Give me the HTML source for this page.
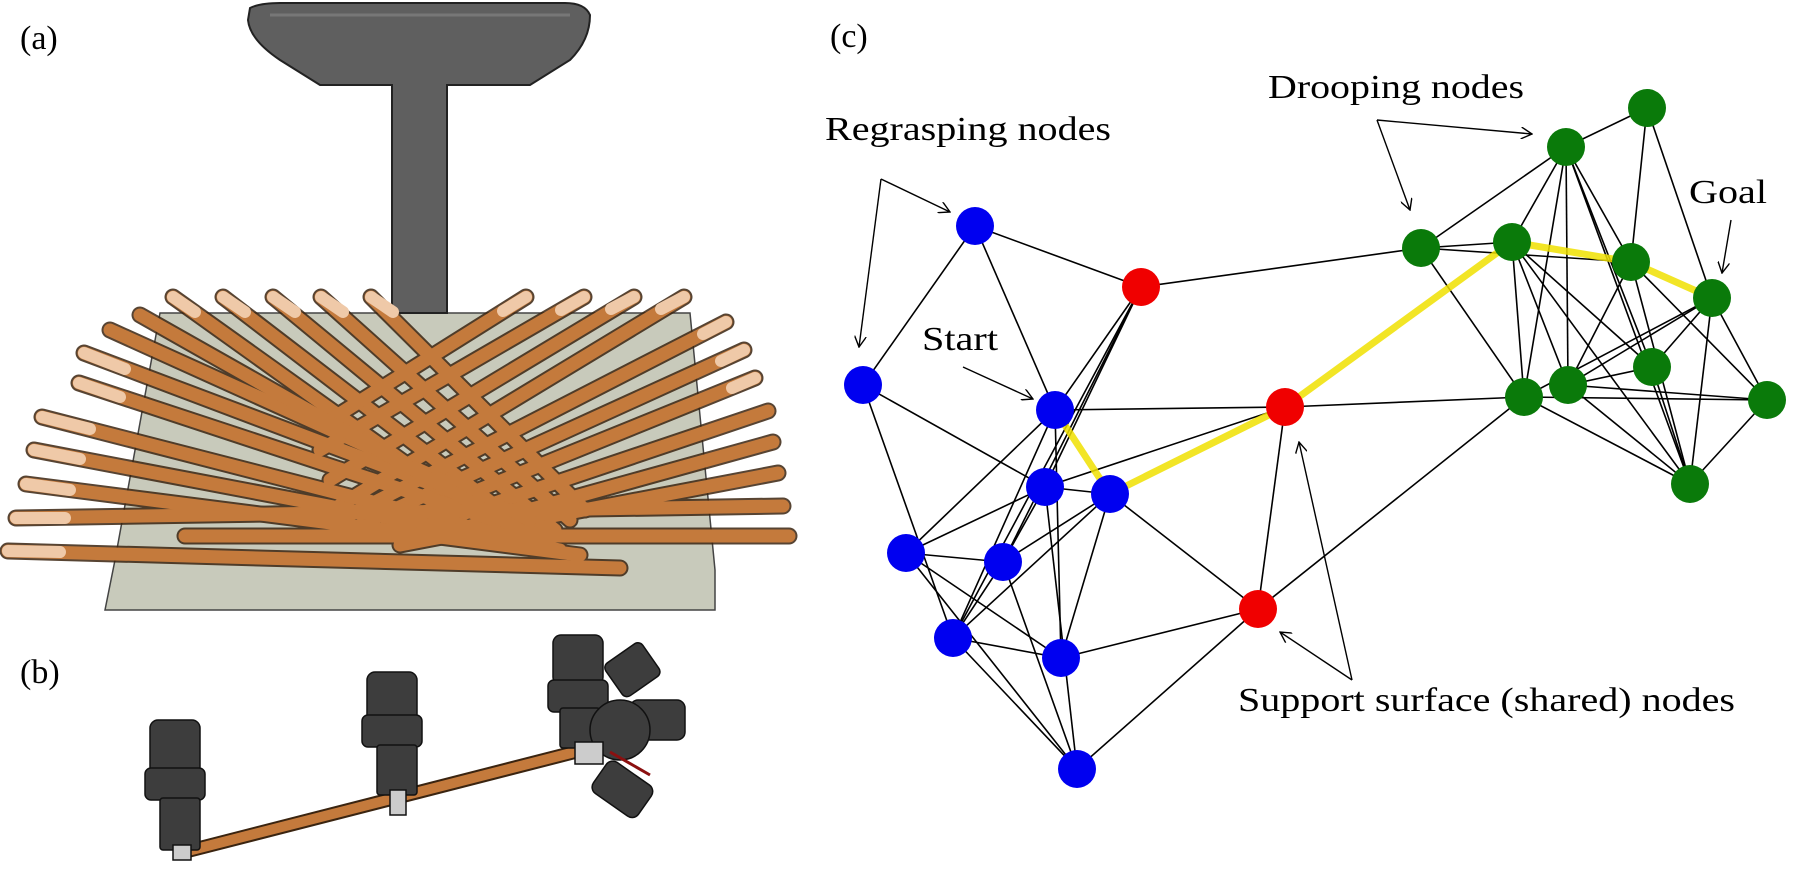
<!DOCTYPE html>
<html><head><meta charset="utf-8"><style>
html,body{margin:0;padding:0;background:#fff;}
svg{display:block;}
text{font-family:"Liberation Serif",serif;fill:#000;}
</style></head><body>
<svg width="1797" height="873" viewBox="0 0 1797 873" xmlns="http://www.w3.org/2000/svg">
<defs>
<marker id="ar" viewBox="0 0 12 12" refX="11" refY="6" markerWidth="12" markerHeight="12" markerUnits="userSpaceOnUse" orient="auto">
<path d="M0,0 L11,6 L0,12" fill="none" stroke="#000" stroke-width="1.4"/>
</marker>
</defs>
<rect width="1797" height="873" fill="#fff"/>

<!-- Panel (a) -->
<text x="20" y="49" font-size="34">(a)</text>
<polygon points="160,313 690,313 715,570 715,610 105,610 115,560" fill="#c8cabb" stroke="#444" stroke-width="1.5"/>
<path d="M250,8 Q260,3 280,3 L565,3 Q585,3 590,15 Q590,40 570,60 L530,85 L447,85 L447,313 L392,313 L392,85 L320,85 L280,60 Q250,40 248,20 Z" fill="#5f5f5f" stroke="#222" stroke-width="2"/>
<path d="M270,15 L570,15" stroke="#777" stroke-width="3"/>
<g stroke-linecap="round">
<g stroke="#3a2410" stroke-width="17" opacity="0.85">
<line x1="173" y1="297" x2="520" y2="545"/>
<line x1="223" y1="297" x2="540" y2="540"/>
<line x1="273" y1="297" x2="555" y2="530"/>
<line x1="321" y1="297" x2="570" y2="520"/>
<line x1="371" y1="297" x2="585" y2="510"/>
<line x1="526" y1="297" x2="330" y2="420"/>
<line x1="584" y1="297" x2="320" y2="450"/>
<line x1="634" y1="297" x2="330" y2="480"/>
<line x1="684" y1="297" x2="340" y2="505"/>
<line x1="726" y1="322" x2="350" y2="515"/>
<line x1="744" y1="350" x2="360" y2="525"/>
<line x1="755" y1="378" x2="380" y2="530"/>
<line x1="768" y1="411" x2="400" y2="535"/>
<line x1="773" y1="442" x2="420" y2="540"/>
<line x1="778" y1="473" x2="400" y2="545"/>
<line x1="84" y1="353" x2="540" y2="525"/>
<line x1="79" y1="383" x2="540" y2="535"/>
<line x1="42" y1="417" x2="540" y2="545"/>
<line x1="34" y1="450" x2="560" y2="550"/>
<line x1="26" y1="484" x2="580" y2="555"/>
<line x1="110" y1="330" x2="530" y2="520"/>
<line x1="140" y1="315" x2="520" y2="530"/>
<line x1="16" y1="518" x2="783" y2="506"/>
<line x1="185" y1="536" x2="789" y2="536"/>
<line x1="8" y1="551" x2="620" y2="568"/>
</g>
<g stroke="#c47a3c" stroke-width="13">
<line x1="173" y1="297" x2="520" y2="545"/>
<line x1="223" y1="297" x2="540" y2="540"/>
<line x1="273" y1="297" x2="555" y2="530"/>
<line x1="321" y1="297" x2="570" y2="520"/>
<line x1="371" y1="297" x2="585" y2="510"/>
<line x1="526" y1="297" x2="330" y2="420"/>
<line x1="584" y1="297" x2="320" y2="450"/>
<line x1="634" y1="297" x2="330" y2="480"/>
<line x1="684" y1="297" x2="340" y2="505"/>
<line x1="726" y1="322" x2="350" y2="515"/>
<line x1="744" y1="350" x2="360" y2="525"/>
<line x1="755" y1="378" x2="380" y2="530"/>
<line x1="768" y1="411" x2="400" y2="535"/>
<line x1="773" y1="442" x2="420" y2="540"/>
<line x1="778" y1="473" x2="400" y2="545"/>
<line x1="84" y1="353" x2="540" y2="525"/>
<line x1="79" y1="383" x2="540" y2="535"/>
<line x1="42" y1="417" x2="540" y2="545"/>
<line x1="34" y1="450" x2="560" y2="550"/>
<line x1="26" y1="484" x2="580" y2="555"/>
<line x1="110" y1="330" x2="530" y2="520"/>
<line x1="140" y1="315" x2="520" y2="530"/>
<line x1="16" y1="518" x2="783" y2="506"/>
<line x1="185" y1="536" x2="789" y2="536"/>
<line x1="8" y1="551" x2="620" y2="568"/>
</g>
<g stroke="#efc9a8" stroke-width="12">
<line x1="173" y1="297" x2="195" y2="312"/>
<line x1="223" y1="297" x2="245" y2="312"/>
<line x1="273" y1="297" x2="295" y2="312"/>
<line x1="321" y1="297" x2="343" y2="312"/>
<line x1="371" y1="297" x2="393" y2="312"/>
<line x1="526" y1="297" x2="503" y2="311"/>
<line x1="584" y1="297" x2="561" y2="310"/>
<line x1="634" y1="297" x2="611" y2="309"/>
<line x1="684" y1="297" x2="661" y2="309"/>
<line x1="726" y1="322" x2="703" y2="334"/>
<line x1="744" y1="350" x2="721" y2="361"/>
<line x1="755" y1="378" x2="732" y2="388"/>
<line x1="84" y1="353" x2="125" y2="369"/>
<line x1="79" y1="383" x2="120" y2="397"/>
<line x1="42" y1="417" x2="90" y2="429"/>
<line x1="34" y1="450" x2="80" y2="459"/>
<line x1="26" y1="484" x2="70" y2="490"/>
<line x1="16" y1="518" x2="65" y2="518"/>
<line x1="8" y1="551" x2="60" y2="552"/>
</g>
</g>

<!-- Panel (b) -->
<text x="20" y="683" font-size="34">(b)</text>
<line x1="184" y1="852" x2="575" y2="752" stroke="#3a2410" stroke-width="14"/>
<line x1="184" y1="852" x2="575" y2="752" stroke="#c47a3c" stroke-width="10"/>
<g fill="#3d3d3d" stroke="#111" stroke-width="1.5">
<rect x="150" y="720" width="50" height="55" rx="8"/>
<rect x="145" y="768" width="60" height="32" rx="6"/>
<rect x="160" y="798" width="40" height="52" rx="3"/>
<rect x="173" y="845" width="18" height="15" fill="#ccc"/>
<rect x="367" y="672" width="50" height="52" rx="8"/>
<rect x="362" y="715" width="60" height="32" rx="6"/>
<rect x="377" y="745" width="40" height="50" rx="3"/>
<rect x="390" y="790" width="16" height="25" fill="#ccc"/>
<rect x="553" y="635" width="50" height="50" rx="8"/>
<rect x="548" y="680" width="60" height="32" rx="6"/>
<rect x="560" y="708" width="40" height="40" rx="3"/>
<rect x="610" y="650" width="45" height="40" rx="6" transform="rotate(-35 632 670)"/>
<rect x="630" y="700" width="55" height="40" rx="8"/>
<ellipse cx="620" cy="730" rx="30" ry="30"/>
<rect x="595" y="770" width="55" height="38" rx="8" transform="rotate(35 622 789)"/>
<rect x="575" y="742" width="28" height="22" fill="#ccc"/>
</g>
<line x1="610" y1="752" x2="650" y2="775" stroke="#8b1010" stroke-width="3"/>

<!-- Panel (c) -->
<text x="830" y="47" font-size="34">(c)</text>
<g stroke="#000" stroke-width="1.6">
<line x1="975" y1="226" x2="1141" y2="287"/>
<line x1="975" y1="226" x2="863" y2="385"/>
<line x1="975" y1="226" x2="1055" y2="410"/>
<line x1="863" y1="385" x2="1045" y2="487"/>
<line x1="863" y1="385" x2="953" y2="638"/>
<line x1="1141" y1="287" x2="1421" y2="248"/>
<line x1="1141" y1="287" x2="1045" y2="487"/>
<line x1="1141" y1="287" x2="1003" y2="562"/>
<line x1="1141" y1="287" x2="953" y2="638"/>
<line x1="1141" y1="287" x2="1055" y2="410"/>
<line x1="1055" y1="410" x2="1285" y2="407"/>
<line x1="1055" y1="410" x2="906" y2="553"/>
<line x1="1055" y1="410" x2="1061" y2="658"/>
<line x1="1055" y1="410" x2="953" y2="638"/>
<line x1="1045" y1="487" x2="1285" y2="407"/>
<line x1="1045" y1="487" x2="906" y2="553"/>
<line x1="1045" y1="487" x2="1110" y2="494"/>
<line x1="1045" y1="487" x2="1077" y2="769"/>
<line x1="1045" y1="487" x2="1003" y2="562"/>
<line x1="1110" y1="494" x2="1258" y2="609"/>
<line x1="1110" y1="494" x2="953" y2="638"/>
<line x1="1110" y1="494" x2="1061" y2="658"/>
<line x1="1110" y1="494" x2="1003" y2="562"/>
<line x1="906" y1="553" x2="1003" y2="562"/>
<line x1="906" y1="553" x2="1061" y2="658"/>
<line x1="906" y1="553" x2="1077" y2="769"/>
<line x1="1003" y1="562" x2="953" y2="638"/>
<line x1="1003" y1="562" x2="1077" y2="769"/>
<line x1="953" y1="638" x2="1061" y2="658"/>
<line x1="953" y1="638" x2="1077" y2="769"/>
<line x1="1061" y1="658" x2="1258" y2="609"/>
<line x1="1077" y1="769" x2="1258" y2="609"/>
<line x1="1285" y1="407" x2="1258" y2="609"/>
<line x1="1285" y1="407" x2="1524" y2="397"/>
<line x1="1258" y1="609" x2="1524" y2="397"/>
<line x1="1421" y1="248" x2="1566" y2="147"/>
<line x1="1421" y1="248" x2="1512" y2="242"/>
<line x1="1421" y1="248" x2="1524" y2="397"/>
<line x1="1421" y1="248" x2="1631" y2="262"/>
<line x1="1512" y1="242" x2="1566" y2="147"/>
<line x1="1512" y1="242" x2="1524" y2="397"/>
<line x1="1512" y1="242" x2="1568" y2="385"/>
<line x1="1512" y1="242" x2="1690" y2="484"/>
<line x1="1512" y1="242" x2="1652" y2="367"/>
<line x1="1566" y1="147" x2="1647" y2="108"/>
<line x1="1566" y1="147" x2="1524" y2="397"/>
<line x1="1566" y1="147" x2="1568" y2="385"/>
<line x1="1566" y1="147" x2="1652" y2="367"/>
<line x1="1566" y1="147" x2="1690" y2="484"/>
<line x1="1566" y1="147" x2="1631" y2="262"/>
<line x1="1647" y1="108" x2="1712" y2="298"/>
<line x1="1647" y1="108" x2="1631" y2="262"/>
<line x1="1631" y1="262" x2="1568" y2="385"/>
<line x1="1631" y1="262" x2="1767" y2="400"/>
<line x1="1631" y1="262" x2="1690" y2="484"/>
<line x1="1712" y1="298" x2="1524" y2="397"/>
<line x1="1712" y1="298" x2="1568" y2="385"/>
<line x1="1712" y1="298" x2="1652" y2="367"/>
<line x1="1712" y1="298" x2="1690" y2="484"/>
<line x1="1712" y1="298" x2="1767" y2="400"/>
<line x1="1524" y1="397" x2="1767" y2="400"/>
<line x1="1524" y1="397" x2="1690" y2="484"/>
<line x1="1568" y1="385" x2="1652" y2="367"/>
<line x1="1568" y1="385" x2="1767" y2="400"/>
<line x1="1568" y1="385" x2="1690" y2="484"/>
<line x1="1652" y1="367" x2="1690" y2="484"/>
<line x1="1767" y1="400" x2="1690" y2="484"/>
</g>
<polyline points="1055,410 1110,494 1285,407 1512,242 1631,262 1712,298" fill="none" stroke="#f0e000" stroke-width="7" stroke-opacity="0.85" stroke-linejoin="round"/>
<g fill="#0000f0">
<circle cx="975" cy="226" r="19"/><circle cx="863" cy="385" r="19"/>
<circle cx="1055" cy="410" r="19"/><circle cx="1045" cy="487" r="19"/>
<circle cx="1110" cy="494" r="19"/><circle cx="906" cy="553" r="19"/>
<circle cx="1003" cy="562" r="19"/><circle cx="953" cy="638" r="19"/>
<circle cx="1061" cy="658" r="19"/><circle cx="1077" cy="769" r="19"/>
</g>
<g fill="#f00000">
<circle cx="1141" cy="287" r="19"/><circle cx="1285" cy="407" r="19"/><circle cx="1258" cy="609" r="19"/>
</g>
<g fill="#0a7a0a">
<circle cx="1421" cy="248" r="19"/><circle cx="1512" cy="242" r="19"/>
<circle cx="1566" cy="147" r="19"/><circle cx="1647" cy="108" r="19"/>
<circle cx="1631" cy="262" r="19"/><circle cx="1712" cy="298" r="19"/>
<circle cx="1524" cy="397" r="19"/><circle cx="1568" cy="385" r="19"/>
<circle cx="1652" cy="367" r="19"/><circle cx="1767" cy="400" r="19"/>
<circle cx="1690" cy="484" r="19"/>
</g>
<text x="825" y="140" font-size="34" textLength="286" lengthAdjust="spacingAndGlyphs">Regrasping nodes</text>
<text x="1268" y="98" font-size="34" textLength="256" lengthAdjust="spacingAndGlyphs">Drooping nodes</text>
<text x="922" y="350" font-size="34" textLength="76" lengthAdjust="spacingAndGlyphs">Start</text>
<text x="1689" y="203" font-size="34" textLength="78" lengthAdjust="spacingAndGlyphs">Goal</text>
<text x="1238" y="711" font-size="34" textLength="497" lengthAdjust="spacingAndGlyphs">Support surface (shared) nodes</text>
<g stroke="#000" stroke-width="1.4" fill="none">
<line x1="881" y1="179" x2="950" y2="212" marker-end="url(#ar)"/>
<line x1="881" y1="179" x2="859" y2="347" marker-end="url(#ar)"/>
<line x1="1377" y1="120" x2="1532" y2="134" marker-end="url(#ar)"/>
<line x1="1377" y1="120" x2="1410" y2="210" marker-end="url(#ar)"/>
<line x1="963" y1="367" x2="1033" y2="399" marker-end="url(#ar)"/>
<line x1="1731" y1="220" x2="1722" y2="273" marker-end="url(#ar)"/>
<line x1="1352" y1="680" x2="1280" y2="632" marker-end="url(#ar)"/>
<line x1="1352" y1="680" x2="1299" y2="442" marker-end="url(#ar)"/>
</g>
</svg>
</body></html>
